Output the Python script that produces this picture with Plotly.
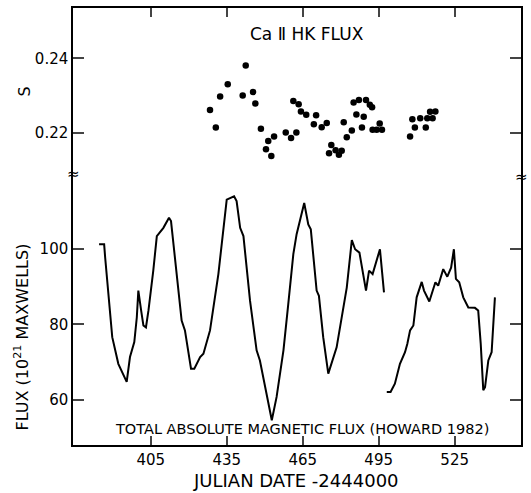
import plotly.graph_objects as go

# Ca II HK S-index measurements
s_days = [428.4, 430.7, 432.4, 435.4, 441.3, 442.5, 445.4, 446.3, 448.5, 450.5, 451.4, 452.6, 453.7,
          458.3, 460.4, 462.5, 461.3, 463.4, 464.3, 466.4, 469.4, 470.3, 472.5, 474.5,
          475.4, 476.3, 478.0, 479.3, 480.4, 481.2, 482.4, 484.4, 485.1, 486.2, 487.2, 488.4, 489.1,
          490.0, 491.5, 492.4, 492.6, 494.2, 495.4, 496.3,
          507.4, 508.3, 509.3, 511.4, 513.6, 514.2, 515.3, 516.3, 517.4]
s_vals = [0.2262, 0.2215, 0.2298, 0.2331, 0.2301, 0.2381, 0.2310, 0.2279, 0.2212, 0.2157, 0.2179, 0.2139, 0.2191,
          0.2202, 0.2187, 0.2202, 0.2286, 0.2277, 0.2258, 0.2249, 0.2224, 0.2248, 0.2216, 0.2227,
          0.2146, 0.2168, 0.2154, 0.2142, 0.2153, 0.2229, 0.2189, 0.2207, 0.2282, 0.2250, 0.2289, 0.2215, 0.2244,
          0.2289, 0.2276, 0.2269, 0.2209, 0.2209, 0.2226, 0.2209,
          0.2191, 0.2237, 0.2215, 0.2240, 0.2215, 0.2240, 0.2257, 0.2240, 0.2258]

# Total absolute magnetic flux (Howard 1982); None marks the data gap
flux_days = [384.6, 386.6, 387.0, 388.3, 389.8, 392.2, 395.5, 396.8, 398.5, 399.5, 400.1, 401.2, 402.1,
             403.1, 404.1, 406.0, 407.4, 410.0, 412.2, 413.0, 414.6, 417.2, 418.5, 420.9, 422.2, 424.5,
             425.8, 428.4, 431.7, 435.0, 437.9, 438.9, 440.3, 441.6, 444.2, 446.8, 448.1, 450.1, 452.8,
             454.7, 457.4, 459.3, 461.3, 462.6, 465.6, 467.2, 468.2, 470.5, 471.4, 473.1, 475.1, 478.4,
             480.4, 482.4, 484.4, 485.7, 487.4, 488.7, 490.0, 491.2, 492.6, 495.5, 497.1, None,
             498.2, 499.7, 501.4, 503.4, 505.4, 506.3, 507.4, 508.7, 510.0, 512.0, 512.9, 515.0, 517.4,
             518.5, 520.5, 522.1, 523.6, 524.7, 525.5, 526.8, 528.4, 530.4, 533.0, 534.3, 535.3, 536.3,
             537.0, 538.3, 539.6, 540.9]
flux_vals = [101.3, 101.3, 97.8, 87.2, 76.6, 69.5, 64.7, 71.3, 75.3, 81.9, 89.0, 83.7, 79.7,
             79.2, 83.7, 94.3, 103.5, 105.7, 108.4, 107.5, 97.8, 81.0, 78.4, 68.2, 68.2, 71.3,
             72.2, 78.4, 93.4, 113.2, 114.1, 112.8, 105.7, 103.5, 86.3, 73.1, 70.4, 63.3, 54.5,
             60.7, 73.1, 85.4, 98.7, 104.0, 112.3, 106.6, 105.3, 89.0, 87.6, 76.6, 66.9, 73.9,
             81.9, 89.8, 102.4, 100.0, 99.1, 93.4, 89.0, 94.3, 93.4, 100.0, 88.5, None,
             62.0, 62.0, 64.2, 69.5, 72.6, 74.8, 78.4, 79.7, 87.2, 91.3, 89.0, 86.1, 91.2,
             90.3, 94.7, 92.7, 95.1, 100.0, 92.1, 91.2, 87.2, 84.5, 84.4, 83.7, 74.8, 62.5,
             63.3, 70.4, 72.6, 87.2]

x_ticks = [405, 435, 465, 495, 525]
flux_ticks = [60, 80, 100]
s_ticks = [0.22, 0.24]

FONT = "DejaVu Sans, sans-serif"

fig = go.Figure()
fig.add_trace(go.Scatter(x=flux_days, y=flux_vals, mode="lines",
                         line=dict(color="black", width=2), connectgaps=False,
                         yaxis="y", showlegend=False, hoverinfo="skip"))
fig.add_trace(go.Scatter(x=s_days, y=s_vals, mode="markers",
                         marker=dict(color="black", size=6.5),
                         yaxis="y2", showlegend=False, hoverinfo="skip"))

axis_common = dict(ticks="inside", tickwidth=1.5, showline=True, linewidth=1.5,
                   linecolor="black", mirror="ticks", showgrid=False, zeroline=False,
                   tickfont=dict(size=15, family=FONT, color="black"))

fig.update_layout(
    width=531, height=493,
    margin=dict(l=73, r=10, t=6, b=48),
    paper_bgcolor="white", plot_bgcolor="white",
    font=dict(family=FONT, color="black", size=14),
    xaxis=dict(range=[374.3, 551.2], tickvals=x_ticks, ticklen=9, **axis_common),
    yaxis=dict(range=[47.9, 164.2], tickvals=flux_ticks, ticklen=11, **axis_common),
    yaxis2=dict(range=[0.1365, 0.2535], tickvals=s_ticks, ticktext=["0.22", "0.24"],
                overlaying="y", side="left", ticklen=11, **axis_common),
)

ann = [
    dict(text="JULIAN DATE -2444000", x=296, y=481, size=18, angle=0),
    dict(text="FLUX (10<sup>21</sup> MAXWELLS)", x=22, y=337, size=16, angle=-90),
    dict(text="S", x=25, y=90, size=16, angle=-90),
    dict(text="Ca Ⅱ HK FLUX", x=307, y=32, size=17, angle=0),
    dict(text="TOTAL ABSOLUTE MAGNETIC FLUX (HOWARD 1982)", x=302, y=429, size=14.5, angle=0),
    dict(text="≈", x=73, y=173, size=15, angle=0),
    dict(text="≈", x=521, y=176, size=15, angle=0),
]
W, H = 531, 493
L, R, T, B = 73, 10, 6, 48
for a in ann:
    fig.add_annotation(text=a["text"], xref="paper", yref="paper",
                       x=(a["x"] - L) / (W - L - R), y=1 - (a["y"] - T) / (H - T - B),
                       xanchor="center", yanchor="middle", showarrow=False,
                       textangle=a["angle"], font=dict(size=a["size"], family=FONT, color="black"))

fig.write_html("out.html")
